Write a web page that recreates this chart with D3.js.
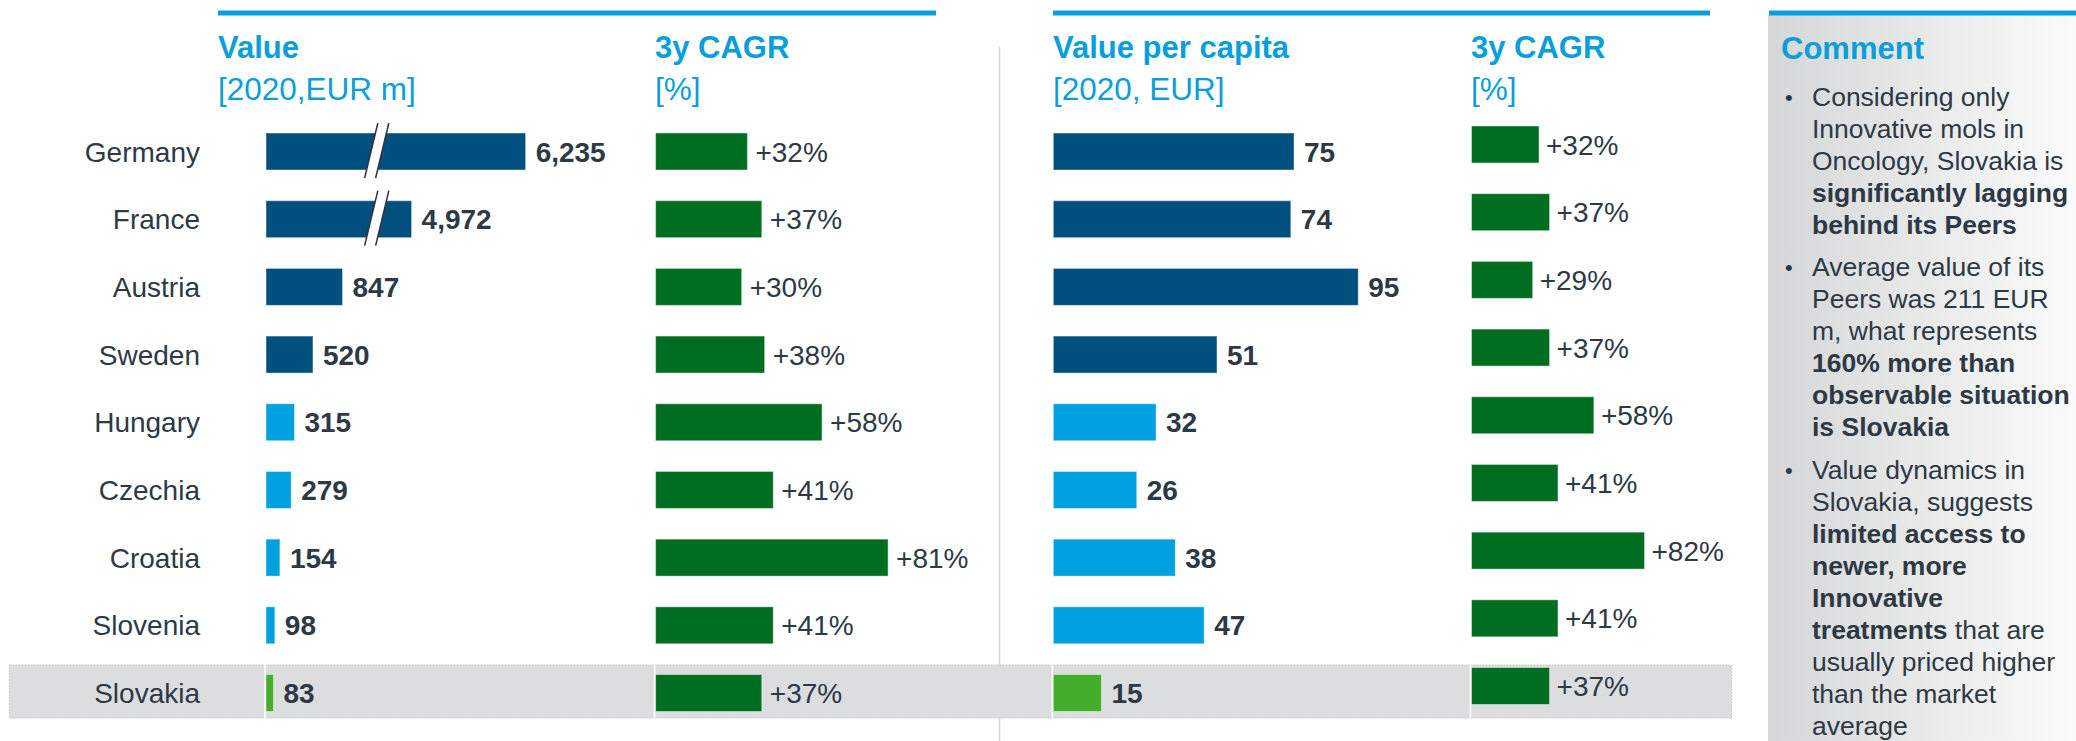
<!DOCTYPE html>
<html>
<head>
<meta charset="utf-8">
<script src="https://cdn.jsdelivr.net/npm/d3@7"></script>
<style>
  body { margin: 0; background: #fff; }
  svg { display: block; font-family: "Liberation Sans", Arial, sans-serif; }
</style>
</head>
<body>
<div id="chart"></div>
<script>
const countries = ['Germany', 'France', 'Austria', 'Sweden', 'Hungary', 'Czechia', 'Croatia', 'Slovenia', 'Slovakia'];
const value2020 = [6235, 4972, 847, 520, 315, 279, 154, 98, 83];
const valueCagr = [32, 37, 30, 38, 58, 41, 81, 41, 37];
const perCapita = [75, 74, 95, 51, 32, 26, 38, 47, 15];
const perCapitaCagr = [32, 37, 29, 37, 58, 41, 82, 41, 37];
const peerGroup = ['west', 'west', 'west', 'west', 'cee', 'cee', 'cee', 'cee', 'focus'];
const focusCountry = 'Slovakia';

const headers = [
  { title: 'Value', unit: '[2020,EUR m]' },
  { title: '3y CAGR', unit: '[%]' },
  { title: 'Value per capita', unit: '[2020, EUR]' },
  { title: '3y CAGR', unit: '[%]' }
];

const commentTitle = 'Comment';
const commentBullets = [
  [[['Considering only', false]], [['Innovative mols in', false]], [['Oncology, Slovakia is', false]],
   [['significantly lagging', true]], [['behind its Peers', true]]],
  [[['Average value of its', false]], [['Peers was 211 EUR', false]], [['m, what represents', false]],
   [['160% more than', true]], [['observable situation', true]], [['is Slovakia', true]]],
  [[['Value dynamics in', false]], [['Slovakia, suggests', false]], [['limited access to', true]],
   [['newer, more', true]], [['Innovative', true]], [['treatments', true], [' that are', false]],
   [['usually priced higher', false]], [['than the market', false]], [['average', false]]]
];

const rows = countries.map((c, i) => ({
  country: c,
  value: value2020[i],
  valueCagr: valueCagr[i],
  perCapita: perCapita[i],
  perCapitaCagr: perCapitaCagr[i],
  group: peerGroup[i]
}));

const W = 2076, H = 741;
const cyan = '#0a9fdc';
const textDark = '#2d3945';
const green = '#006e21';
const groupColor = { west: '#00507f', cee: '#00a1e0', focus: '#43ae2b' };
const barH = 37;

const svg = d3.select('#chart').append('svg')
  .attr('width', W)
  .attr('height', H);

const defs = svg.append('defs');
const grad = defs.append('linearGradient')
  .attr('id', 'comment-bg')
  .attr('x1', '0%').attr('x2', '100%')
  .attr('y1', '0%').attr('y2', '0%');
grad.append('stop').attr('offset', '0%').attr('stop-color', '#d5d6d7');
grad.append('stop').attr('offset', '100%').attr('stop-color', '#fbfbfb');

// scales
const y = d3.scalePoint().domain(countries).range([151.5, 693]);

// value axis has a break: values between 1240 and 4600 are cut out
const breakLo = 1240, breakHi = 4600;
const xValue = d3.scaleLinear()
  .domain([0, breakLo, breakHi, 7000])
  .range([266, 378, 378, 378 + (7000 - breakHi) * 0.0903]);
const xCagr1 = d3.scaleLinear().domain([0, 100]).range([655.6, 942.6]);
const xPc = d3.scaleLinear().domain([0, 100]).range([1053.3, 1374.3]);
const xCagr2 = d3.scaleLinear().domain([0, 100]).range([1471.5, 1682.5]);

// comment panel background
svg.append('rect')
  .attr('x', 1768).attr('y', 15)
  .attr('width', W - 1768).attr('height', H - 15)
  .attr('fill', 'url(#comment-bg)');

// divider between the two blocks
svg.append('line')
  .attr('x1', 999.5).attr('x2', 999.5)
  .attr('y1', 47).attr('y2', H)
  .attr('stroke', '#d4d4d4')
  .attr('stroke-width', 1.5);

// highlight band for Slovakia
svg.append('rect')
  .attr('x', 9.5)
  .attr('y', y(focusCountry) - 28)
  .attr('width', 1722)
  .attr('height', 53)
  .attr('fill', '#dcdddf')
  .attr('stroke', '#c9cacc')
  .attr('stroke-width', 1)
  .attr('stroke-dasharray', '2,1');

// top rules
[[218, 936], [1053, 1710], [1769, W]].forEach(([a, b]) => {
  svg.append('line')
    .attr('x1', a).attr('x2', b)
    .attr('y1', 13).attr('y2', 13)
    .attr('stroke', cyan)
    .attr('stroke-width', 5);
});

// column headers
const headerX = [218, 655, 1053, 1471];
headers.forEach((h, i) => {
  svg.append('text')
    .attr('x', headerX[i]).attr('y', 58)
    .attr('font-size', 31).attr('font-weight', 'bold')
    .attr('fill', cyan)
    .text(h.title);
  svg.append('text')
    .attr('x', headerX[i]).attr('y', 100)
    .attr('font-size', 31.5)
    .attr('fill', cyan)
    .text(h.unit);
});

// zero lines (white, only visible on the band)
[xValue(0), xCagr1(0), xPc(0), xCagr2(0)].forEach(x0 => {
  svg.append('line')
    .attr('x1', x0 - 1).attr('x2', x0 - 1)
    .attr('y1', 120).attr('y2', y(focusCountry) + 25)
    .attr('stroke', '#fff')
    .attr('stroke-width', 1.5);
});

// row labels
svg.append('g').selectAll('text')
  .data(rows)
  .join('text')
  .attr('x', 200)
  .attr('y', d => y(d.country) + 10)
  .attr('text-anchor', 'end')
  .attr('font-size', 28)
  .attr('fill', textDark)
  .text(d => d.country);

function drawPanel(opts) {
  const g = svg.append('g');
  const dy = opts.dy || 0;
  g.selectAll('rect')
    .data(rows)
    .join('rect')
    .attr('x', d => opts.x(0))
    .attr('y', d => y(d.country) - barH / 2 + dy)
    .attr('width', d => opts.x(opts.get(d)) - opts.x(0))
    .attr('height', barH)
    .attr('fill', opts.fill)
    .attr('stroke', '#ffffff')
    .attr('stroke-opacity', 0.45)
    .attr('stroke-width', 1);
  g.selectAll('text')
    .data(rows)
    .join('text')
    .attr('x', d => opts.x(opts.get(d)) + opts.gap)
    .attr('y', d => y(d.country) + 10 + dy)
    .attr('font-size', 28)
    .attr('font-weight', opts.bold ? 'bold' : 'normal')
    .attr('fill', textDark)
    .text(d => opts.fmt(opts.get(d)));
  return g;
}

const fmtComma = d3.format(',');
const fmtPct = v => '+' + v + '%';

const valuePanel = drawPanel({
  x: xValue, get: d => d.value, fill: d => groupColor[d.group],
  gap: 10, bold: true, fmt: fmtComma
});
drawPanel({
  x: xCagr1, get: d => d.valueCagr, fill: green,
  gap: 8, bold: false, fmt: fmtPct
});
drawPanel({
  x: xPc, get: d => d.perCapita, fill: d => groupColor[d.group],
  gap: 10, bold: true, fmt: fmtComma
});
drawPanel({
  x: xCagr2, get: d => d.perCapitaCagr, fill: green,
  gap: 7, bold: false, fmt: fmtPct, dy: -7
});

// axis break marks on the value bars that cross the gap
const bx = xValue(breakLo);
valuePanel.selectAll('g.break')
  .data(rows.filter(d => d.value > breakHi))
  .join('g')
  .attr('class', 'break')
  .attr('transform', d => `translate(${bx},${y(d.country)})`)
  .each(function () {
    const b = d3.select(this);
    const top = -barH / 2 - 10, bot = barH / 2 + 8;
    const sl = 0.24; // slant
    b.append('polygon')
      .attr('points', [
        [-7 - sl * bot, bot], [-7 - sl * top, top],
        [4 - sl * top, top], [4 - sl * bot, bot]
      ].map(p => p.join(',')).join(' '))
      .attr('fill', '#fff');
    [-7, 4].forEach(o => {
      b.append('line')
        .attr('x1', o - sl * bot).attr('y1', bot)
        .attr('x2', o - sl * top).attr('y2', top)
        .attr('stroke', '#333')
        .attr('stroke-width', 1.5);
    });
  });

// comment panel
svg.append('text')
  .attr('x', 1781).attr('y', 59)
  .attr('font-size', 31).attr('font-weight', 'bold')
  .attr('fill', cyan)
  .text(commentTitle);

const lineH = 32, bulletGap = 10.5;
let yy = 105.5;
const cg = svg.append('g').attr('font-size', 26.5).attr('fill', textDark);
commentBullets.forEach(lines => {
  cg.append('text')
    .attr('x', 1785).attr('y', yy - 1)
    .attr('font-size', 22)
    .text('•');
  lines.forEach((segs, li) => {
    const t = cg.append('text')
      .attr('x', 1812)
      .attr('y', yy + li * lineH);
    segs.forEach(([s, bold]) => {
      t.append('tspan')
        .attr('font-weight', bold ? 'bold' : 'normal')
        .style('white-space', 'pre')
        .text(s);
    });
  });
  yy += lines.length * lineH + bulletGap;
});
</script>
</body>
</html>
